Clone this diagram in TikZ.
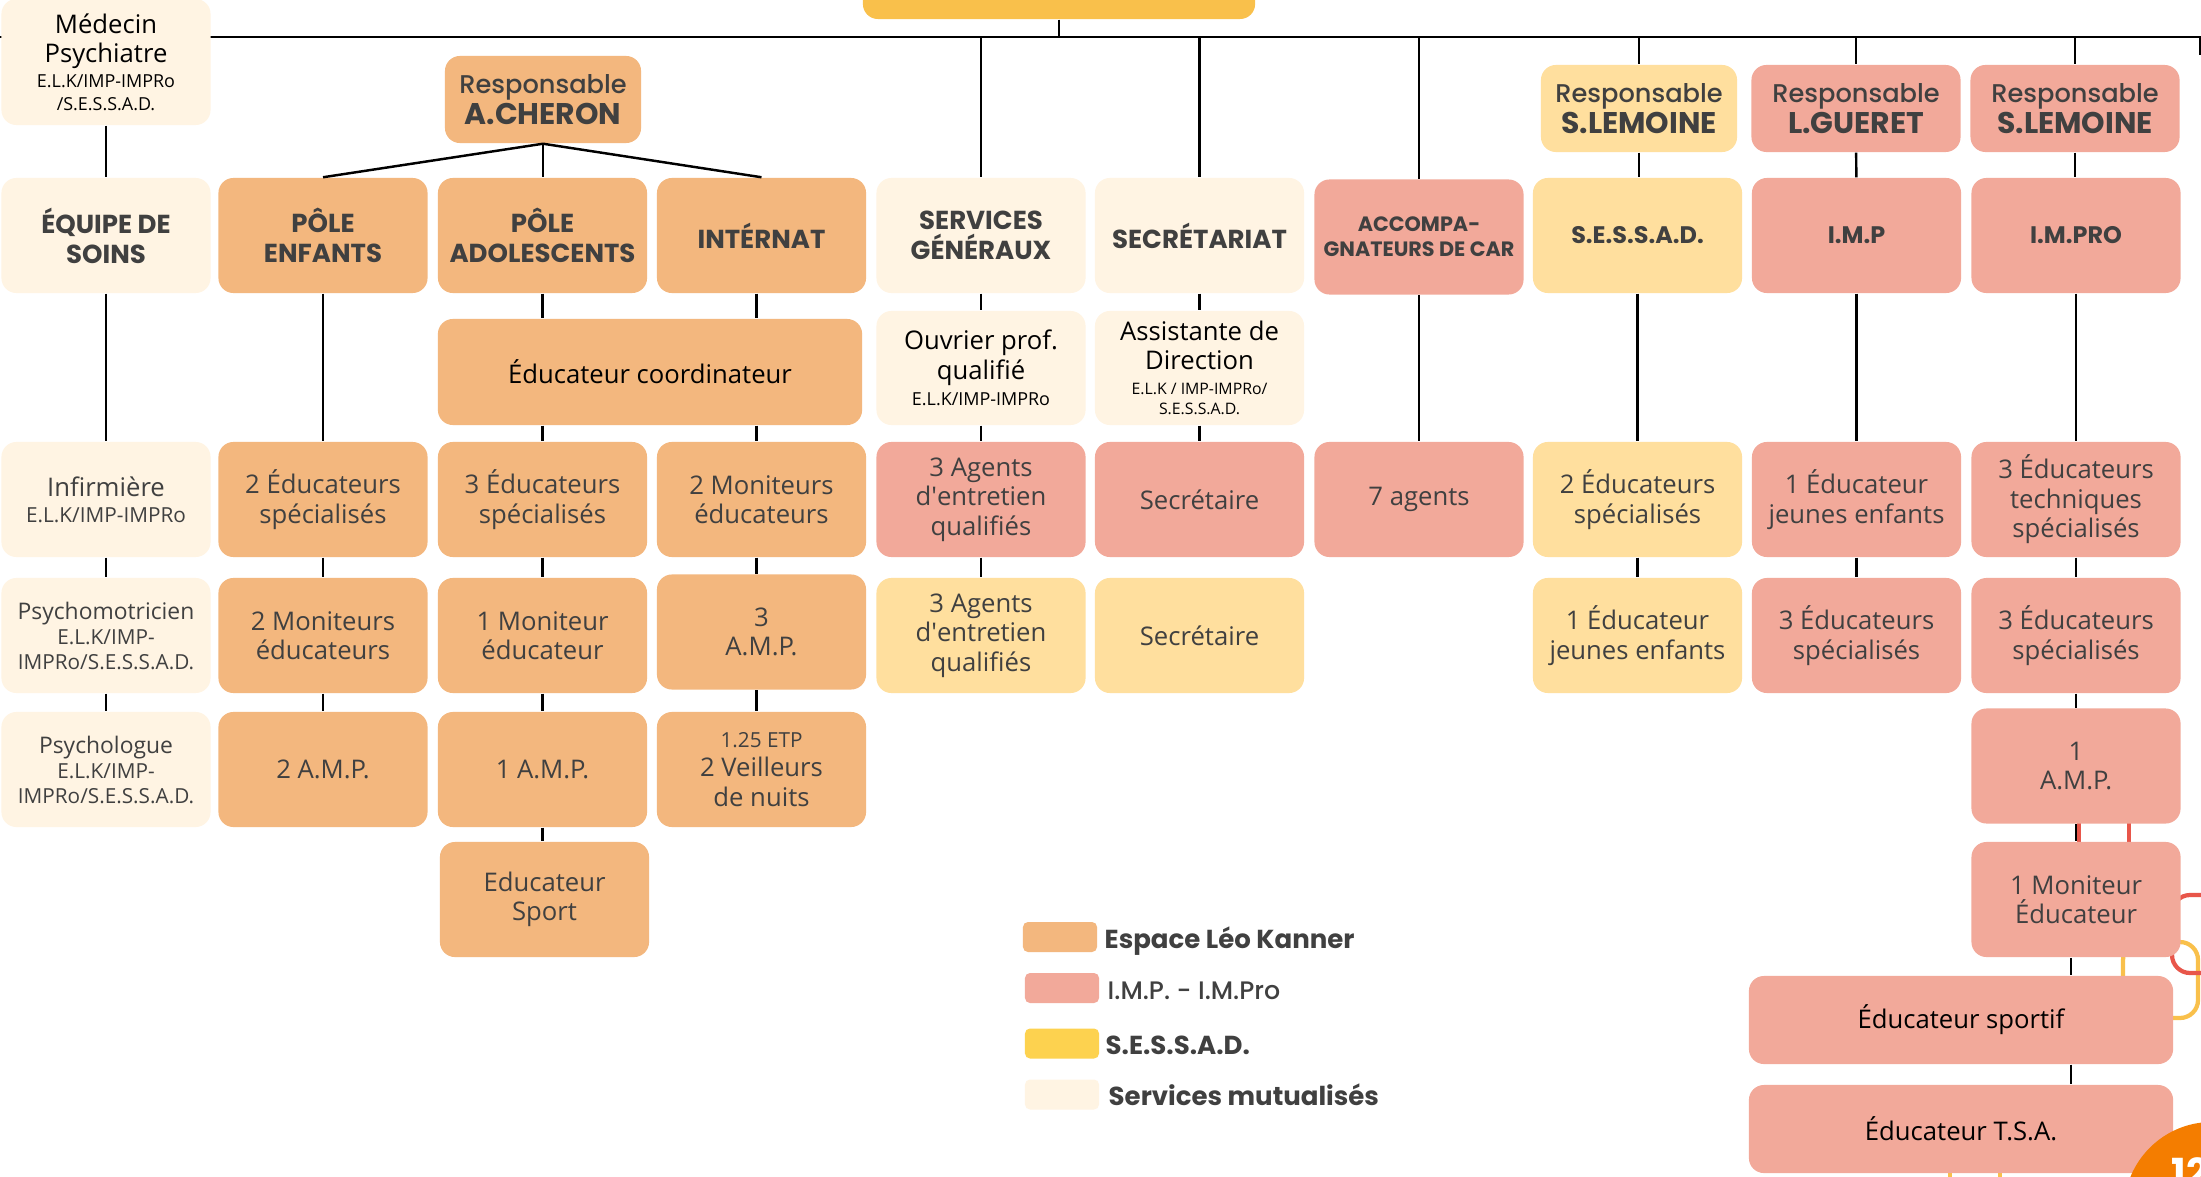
\documentclass[tikz,border=0pt]{standalone}
\usepackage{fontspec}
\newfontfamily\osans{Open Sans}
\newfontfamily\pop{Poppins}
\newfontfamily\popm{Poppins Medium}
\usetikzlibrary{calc}
\definecolor{cOr}{HTML}{F3B77E}
\definecolor{cPk}{HTML}{F2A99A}
\definecolor{cYl}{HTML}{FFDF9E}
\definecolor{cCr}{HTML}{FFF4E3}
\definecolor{cTop}{HTML}{F9C04B}
\definecolor{cSesL}{HTML}{FDD24F}
\definecolor{tgray}{HTML}{404040}
\definecolor{dRed}{HTML}{E8564A}
\definecolor{dYel}{HTML}{F9C04B}
\definecolor{cCirc}{HTML}{F47D00}
\newcommand\fbody{\osans\fontsize{7.3}{8.4}\selectfont}
\newcommand\fbodyb{\osans\fontsize{6.5}{7.1}\selectfont}
\newcommand\fsm{\fontsize{5.9}{6.9}\selectfont}
\newcommand\fxs{\fontsize{5.1}{6}\selectfont}
\newcommand\fxxs{\fontsize{4.5}{5.2}\selectfont}
\newcommand\fhd{\pop\bfseries\fontsize{7.4}{8.5}\selectfont}
\newcommand\fhdsm{\pop\bfseries\fontsize{5.9}{7.1}\selectfont}
\newcommand\fhdn{\pop\bfseries\fontsize{6.8}{8}\selectfont}
\newcommand\fresp{\popm\fontsize{7.3}{9}\selectfont}
\newcommand\frespb{\pop\bfseries\fontsize{8.5}{9}\selectfont}
\newcommand\flg{\pop\bfseries\fontsize{7.4}{8}\selectfont}
\newcommand\flgr{\popm\fontsize{7.2}{8}\selectfont}
\begin{document}
\begin{tikzpicture}[x=0.01cm,y=-0.01cm,
  bx/.style={rounded corners=0.15cm, align=center, inner sep=0pt, minimum width=2.09cm, minimum height=1.15cm, font=\fbody, text=tgray},
  hd/.style={bx, font=\fhd},
  cor/.style={fill=cOr}, cpk/.style={fill=cPk}, cyl/.style={fill=cYl}, ccr/.style={fill=cCr},
  ln/.style={draw=black, line width=0.7pt},
  decor/.style={line width=1.2pt, rounded corners=0.18cm},
  rsp/.style={bx, minimum height=0.87cm, font=\fresp},
  swatch/.style={rounded corners=0.05cm, minimum width=0.74cm, minimum height=0.30cm, inner sep=0pt},
  lgtext/.style={anchor=base west, inner sep=0pt, text=tgray}]

\useasboundingbox (0,0) rectangle (2201,1176);
\clip (0,0) rectangle (2201,1176);
\fill[white] (0,0) rectangle (2201,1176);

% decorative lines behind the boxes
\draw[decor, draw=dYel] (2123,942) rectangle (2198,1018);
\draw[decor, draw=dYel] (1950,1140) -- (1950,1190);
\draw[decor, draw=dYel] (2000,1140) -- (2000,1190);
\draw[decor, draw=dRed] (2079,790) -- (2079,880);
\draw[decor, draw=dRed] (2129,790) -- (2129,880);
\draw[decor, draw=dRed] (2172,895) rectangle (2280,973);

% main horizontal line
\coordinate (hL) at (0,37);
\coordinate (hR) at (2201,37);
\coordinate (tickA) at (2200,37);
\coordinate (tickB) at (2200,55);
\draw[ln] (hL) -- (hR);
\draw[ln] (tickA) -- (tickB);

% top box
\node[bx, fill=cTop, minimum width=3.92cm, minimum height=0.49cm] (top) at (1059,-5.5) {};

% medecin
\node[bx, ccr, minimum height=1.26cm, text=black] (med) at (106,62)
  {Médecin\\Psychiatre\\[-1.2pt]{\fxs E.L.K/IMP-IMPRo}\\[-2pt]{\fxs /S.E.S.S.A.D.}};

% responsables
\node[rsp, cor, minimum width=1.96cm] (rAch) at (543,99.5) {Responsable\\{\frespb A.CHERON}};
\node[rsp, cyl, minimum width=1.96cm] (rSes) at (1639,108.5) {Responsable\\{\frespb S.LEMOINE}};
\node[rsp, cpk] (rGue) at (1856,108.5) {Responsable\\{\frespb L.GUERET}};
\node[rsp, cpk] (rLem) at (2075,108.5) {Responsable\\{\frespb S.LEMOINE}};

% row 1
\node[hd, ccr] (eq) at (106,235.5) {ÉQUIPE DE\\SOINS};
\node[hd, cor] (pe) at (323,235.5) {PÔLE\\ENFANTS};
\node[hd, cor] (pa) at (542.5,235.5) {PÔLE\\ADOLESCENTS};
\node[hd, cor] (int) at (761.5,235.5) {INTÉRNAT};
\node[hd, ccr] (sg) at (981,235.5) {SERVICES\\GÉNÉRAUX};
\node[hd, ccr] (sec) at (1199.5,235.5) {SECRÉTARIAT};
\node[hd, cpk, font=\fhdsm] (acc) at (1419,237) {ACCOMPA-\\GNATEURS DE CAR};
\node[hd, cyl, font=\fhdn] (ses) at (1637.5,235.5) {S.E.S.S.A.D.};
\node[hd, cpk, font=\fhdn] (imp) at (1856.5,235.5) {I.M.P};
\node[hd, cpk, font=\fhdn] (impro) at (2076,235.5) {I.M.PRO};

% intermediate
\node[bx, cor, minimum width=4.24cm, minimum height=1.06cm, text=black] (coord) at (650,372) {Éducateur coordinateur};
\node[bx, ccr, minimum height=1.14cm, text=black] (ouv) at (981,368)
  {Ouvrier prof.\\qualifié\\[-1pt]{\fxs E.L.K/IMP-IMPRo}};
\node[bx, ccr, minimum height=1.14cm, text=black] (asst) at (1199.5,368)
  {Assistante de\\Direction\\[-1.5pt]{\fxxs E.L.K / IMP-IMPRo/}\\[-2.5pt]{\fxxs S.E.S.S.A.D.}};

% row 2
\node[bx, ccr] (inf) at (106,499.5) {Infirmière\\[-1pt]{\fsm E.L.K/IMP-IMPRo}};
\node[bx, cor] (pe2) at (323,499.5) {2 Éducateurs\\spécialisés};
\node[bx, cor] (pa2) at (542.5,499.5) {3 Éducateurs\\spécialisés};
\node[bx, cor] (int2) at (761.5,499.5) {2 Moniteurs\\éducateurs};
\node[bx, cpk] (sg2) at (981,499.5) {3 Agents\\d\textquotesingle{}entretien\\qualifiés};
\node[bx, cpk] (sec2) at (1199.5,499.5) {Secrétaire};
\node[bx, cpk] (acc2) at (1419,499.5) {7 agents};
\node[bx, cyl] (ses2) at (1637.5,499.5) {2 Éducateurs\\spécialisés};
\node[bx, cpk] (imp2) at (1856.5,499.5) {1 Éducateur\\jeunes enfants};
\node[bx, cpk] (impro2) at (2076,499.5) {3 Éducateurs\\techniques\\spécialisés};

% row 3
\node[bx, ccr, font=\fbodyb] (psm) at (106,635.5) {Psychomotricien\\{\fsm E.L.K/IMP-}\\{\fsm IMPRo/S.E.S.S.A.D.}};
\node[bx, cor] (pe3) at (323,635.5) {2 Moniteurs\\éducateurs};
\node[bx, cor] (pa3) at (542.5,635.5) {1 Moniteur\\éducateur};
\node[bx, cor] (int3) at (761.5,632) {3\\A.M.P.};
\node[bx, cyl] (sg3) at (981,635.5) {3 Agents\\d\textquotesingle{}entretien\\qualifiés};
\node[bx, cyl] (sec3) at (1199.5,635.5) {Secrétaire};
\node[bx, cyl] (ses3) at (1637.5,635.5) {1 Éducateur\\jeunes enfants};
\node[bx, cpk] (imp3) at (1856.5,635.5) {3 Éducateurs\\spécialisés};
\node[bx, cpk] (impro3) at (2076,635.5) {3 Éducateurs\\spécialisés};

% row 4
\node[bx, ccr, font=\fbodyb] (psl) at (106,769.5) {Psychologue\\{\fsm E.L.K/IMP-}\\{\fsm IMPRo/S.E.S.S.A.D.}};
\node[bx, cor] (pe4) at (323,769.5) {2 A.M.P.};
\node[bx, cor] (pa4) at (542.5,769.5) {1 A.M.P.};
\node[bx, cor] (int4) at (761.5,769.5) {{\fsm 1.25 ETP}\\2 Veilleurs\\de nuits};
\node[bx, cpk] (impro4) at (2076,766) {1\\A.M.P.};

% row 5 and below
\node[bx, cor] (pa5) at (544.5,899.5) {Educateur\\Sport};
\node[bx, cpk] (impro5) at (2076,899.5) {1 Moniteur\\Éducateur};
\node[bx, cpk, minimum width=4.24cm, minimum height=0.88cm, text=black] (spt) at (1961,1020) {Éducateur sportif};
\node[bx, cpk, minimum width=4.24cm, minimum height=0.88cm, text=black] (tsa) at (1961,1129) {Éducateur T.S.A.};

% page number disc
\fill[cCirc] (2212,1210) circle[radius=0.88cm];
\node[anchor=base west, inner sep=0pt, text=white, font=\pop\bfseries\fontsize{11}{11}\selectfont] (pgnum) at (2171,1186) {12};

% connectors
\draw[ln] (top.south) -- (top.south |- hL);
\foreach \n in {sg,sec,acc,rSes,rGue,rLem}{\draw[ln] (\n.north |- hL) -- (\n.north);}
\draw[ln] (med) -- (eq);
\draw[ln] (eq) -- (inf);
\draw[ln] (inf) -- (psm);
\draw[ln] (psm) -- (psl);
\draw[ln] (rAch.south) -- (pe.north);
\draw[ln] (rAch.south) -- (rAch.south |- pa.north);
\draw[ln] (rAch.south) -- (int.north);
\draw[ln] (pe) -- (pe2);
\draw[ln] (pe2) -- (pe3);
\draw[ln] (pe3) -- (pe4);
\draw[ln] (pa.south) -- (pa.south |- coord.north);
\draw[ln] ([xshift=-0.05cm]int.south) -- ([xshift=-0.05cm]int.south |- coord.north);
\draw[ln] (pa2.north |- coord.south) -- (pa2.north);
\draw[ln] ([xshift=-0.05cm]int2.north |- coord.south) -- ([xshift=-0.05cm]int2.north);
\draw[ln] (pa2) -- (pa3);
\draw[ln] (pa3) -- (pa4);
\draw[ln] (pa4.south) -- (pa4.south |- pa5.north);
\draw[ln] ([xshift=-0.05cm]int2.south) -- ([xshift=-0.05cm]int3.north);
\draw[ln] ([xshift=-0.05cm]int3.south) -- ([xshift=-0.05cm]int4.north);
\draw[ln] (sg) -- (ouv);
\draw[ln] (ouv) -- (sg2);
\draw[ln] (sg2) -- (sg3);
\draw[ln] (sec) -- (asst);
\draw[ln] (asst) -- (sec2);
\draw[ln] (acc) -- (acc2);
\draw[ln] (rSes.south) -- (rSes.south |- ses.north);
\draw[ln] (ses) -- (ses2);
\draw[ln] (ses2) -- (ses3);
\draw[ln] (rGue) -- (imp);
\draw[ln] (imp) -- (imp2);
\draw[ln] (imp2) -- (imp3);
\draw[ln] (rLem.south) -- (rLem.south |- impro.north);
\draw[ln] (impro) -- (impro2);
\draw[ln] (impro2) -- (impro3);
\draw[ln] (impro3) -- (impro4);
\draw[ln] (impro4) -- (impro5);
\draw[ln] ([xshift=-0.05cm]impro5.south) -- ([xshift=-0.05cm]impro5.south |- spt.north);
\draw[ln] ([xshift=-0.05cm]spt.south -| impro5) -- ([xshift=-0.05cm]tsa.north -| impro5);

% legend
\node[swatch, fill=cOr] (lg1) at (1060,937) {};
\node[lgtext, font=\flg] (lg1t) at (1104,948) {Espace Léo Kanner};
\node[swatch, fill=cPk] (lg2) at (1062,988) {};
\node[lgtext, font=\flgr] (lg2t) at (1107,999) {I.M.P. - I.M.Pro};
\node[swatch, fill=cSesL] (lg3) at (1062,1043.5) {};
\node[lgtext, font=\flg] (lg3t) at (1105,1054) {S.E.S.S.A.D.};
\node[swatch, fill=cCr] (lg4) at (1062,1094.5) {};
\node[lgtext, font=\flg] (lg4t) at (1108,1105) {Services mutualisés};
\end{tikzpicture}
\end{document}
